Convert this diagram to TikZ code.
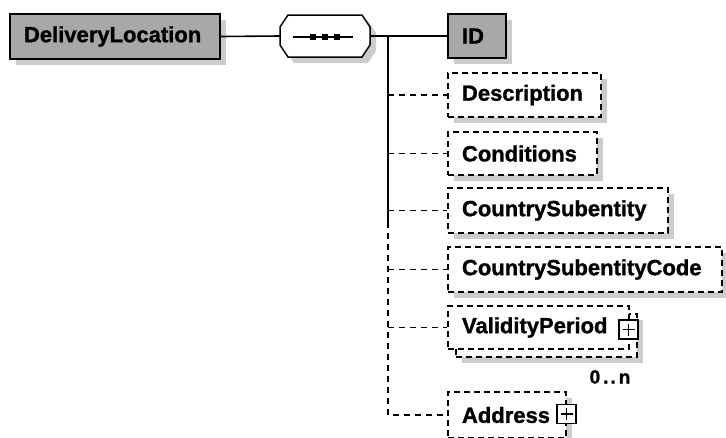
\documentclass[tikz,border=0pt]{standalone}
\usepackage{fontspec}
\setmainfont{Liberation Sans}[BoldFeatures={FakeBold=1.2}]
\usetikzlibrary{shadows,calc}
\begin{document}
\begin{tikzpicture}[x=1pt,y=-1pt,
  lbl/.style={font=\bfseries\fontsize{22}{24}\selectfont},
  gshadow/.style={general shadow={shadow xshift=6pt, shadow yshift=-6pt, fill=black!20}},
  solidbox/.style={draw, line width=1.6pt, fill={rgb,255:red,168;green,168;blue,168}, gshadow, lbl, inner xsep=14pt, inner ysep=0pt, align=left},
  dashbox/.style={draw, line width=1.6pt, dash pattern=on 6pt off 4pt, fill=white, lbl, inner xsep=14pt, inner ysep=0pt, align=left},
  plusbox/.style={draw, line width=1.4pt, fill=white, minimum size=19pt, inner sep=0pt},
  conn/.style={line width=1.6pt},
  dconn/.style={line width=1.6pt, dash pattern=on 6pt off 5pt},
]
\useasboundingbox (0,0) rectangle (726,437);

% main element
\node[solidbox, text width=182pt, minimum height=45pt] (dl) at (115,36.5) {DeliveryLocation};

% sequence compositor
\node[minimum width=90pt, minimum height=42pt, inner sep=0pt] (seq) at (325,36) {};
\fill[black!20] ($(seq.center)+(-31,-15)$) -- ($(seq.center)+(43,-15)$) -- ($(seq.center)+(51,-3)$) -- ($(seq.center)+(51,15)$) -- ($(seq.center)+(43,27)$) -- ($(seq.center)+(-31,27)$) -- ($(seq.center)+(-39,15)$) -- ($(seq.center)+(-39,-3)$) -- cycle;
\draw[line width=1.5pt, fill=white] ($(seq.center)+(-37,-21)$) -- ($(seq.center)+(37,-21)$) -- ($(seq.center)+(45,-9)$) -- ($(seq.center)+(45,9)$) -- ($(seq.center)+(37,21)$) -- ($(seq.center)+(-37,21)$) -- ($(seq.center)+(-45,9)$) -- ($(seq.center)+(-45,-9)$) -- cycle;
\draw[line width=1.4pt] ($(seq.center)+(-32,1)$) -- ($(seq.center)+(28,1)$);
\foreach \dx in {-12,0,12} \fill ($(seq.center)+(\dx-3,-2)$) rectangle +(6,6);

% children
\node[solidbox, text width=30pt, minimum height=44pt] (id) at (477,36) {ID};
\node[dashbox, gshadow, text width=125pt, minimum height=44pt] (desc) at (524.5,95) {Description};
\node[dashbox, gshadow, text width=121pt, minimum height=43pt] (cond) at (522.5,153.5) {Conditions};
\node[dashbox, gshadow, text width=192pt, minimum height=45pt] (csub) at (558,210.5) {CountrySubentity};
\node[dashbox, gshadow, text width=246pt, minimum height=45pt] (csubc) at (585,269.5) {CountrySubentityCode};
\node[dashbox, gshadow, text width=153pt, minimum height=43pt] (vpback) at (546.5,335.5) {};
\node[dashbox, text width=153pt, minimum height=43pt] (vp) at (538.5,327.5) {ValidityPeriod};
\node[plusbox] (vpplus) at (628.5,329.5) {};
\draw[line width=1.4pt] ([xshift=-6pt]vpplus.center) -- ([xshift=6pt]vpplus.center) ([yshift=-6pt]vpplus.center) -- ([yshift=6pt]vpplus.center);
\node[font=\bfseries\fontsize{19}{20}\selectfont, inner sep=0pt] (mult) at (610,377) {0\kern3pt.\kern2pt.\kern3pt n};
\node[dashbox, gshadow, text width=90pt, minimum height=46pt] (addr) at (507,415) {Address};
\node[plusbox] (adplus) at (566.5,414) {};
\draw[line width=1.4pt] ([xshift=-6pt]adplus.center) -- ([xshift=6pt]adplus.center) ([yshift=-6pt]adplus.center) -- ([yshift=6pt]adplus.center);

% connectors
\coordinate (bus) at (388,36);
\coordinate (busmid) at (388,222);
\coordinate (busend) at (388,415);
\draw[conn] (dl.east) -- (seq.west);
\draw[conn] (seq.east) -- (bus) -- (id.west);
\draw[conn] (bus) -- (busmid);
\draw[dconn] (busmid) -- (busend) -- (addr.west);
\foreach \n in {desc,cond,csub,csubc,vp} \draw[dconn] (bus |- \n.west) -- (\n.west);
\end{tikzpicture}
\end{document}
